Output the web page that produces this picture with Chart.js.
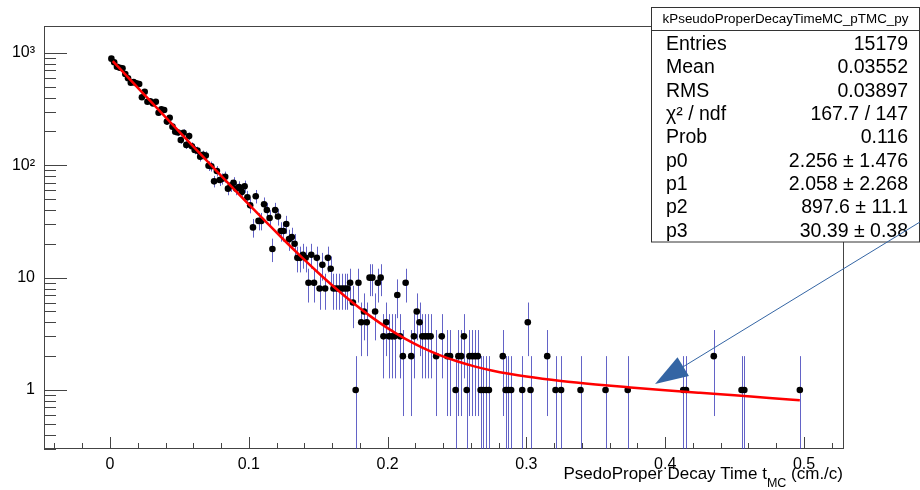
<!DOCTYPE html>
<html><head><meta charset="utf-8">
<script src="https://cdn.jsdelivr.net/npm/chart.js@4.4.0/dist/chart.umd.min.js"></script>
<style>html,body{margin:0;padding:0;background:#fff;}canvas{display:block;}</style>
</head><body>
<canvas id="c" width="920" height="490"></canvas>
<script>
// ---- histogram bins (non-empty) ----
const binCenters = [
0.001,0.003,0.005,0.007,0.009,0.011,0.013,0.015,0.017,0.019,
0.021,0.023,0.025,0.027,0.029,0.031,0.033,0.035,0.037,0.039,
0.041,0.043,0.045,0.047,0.049,0.051,0.053,0.055,0.057,0.059,
0.061,0.063,0.065,0.067,0.069,0.071,0.073,0.075,0.077,0.079,
0.081,0.083,0.085,0.087,0.089,0.091,0.093,0.095,0.097,0.099,
0.101,0.103,0.105,0.107,0.109,0.111,0.113,0.115,0.117,0.119,
0.121,0.123,0.125,0.127,0.129,0.131,0.133,0.135,0.137,0.139,
0.141,0.143,0.145,0.147,0.149,0.151,0.153,0.155,0.157,0.159,
0.161,0.163,0.165,0.167,0.169,0.171,0.173,0.175,0.177,0.179,
0.181,0.183,0.185,0.187,0.189,0.191,0.193,0.195,0.197,0.199,
0.201,0.203,0.205,0.207,0.209,0.211,0.213,
0.217,0.219,0.221,0.223,0.225,0.227,0.229,0.231,0.235,0.239,
0.243,0.245,0.249,0.251,0.253,0.255,0.257,0.259,0.261,0.263,
0.265,0.267,0.269,0.271,0.273,0.283,0.285,0.287,0.289,0.297,
0.301,0.303,0.315,0.321,0.325,0.339,0.357,0.373,0.413,0.415,
0.435,0.455,0.457,0.497];
const binCounts = [
890,826,755,740,730,650,596,544,550,537,
530,403,452,368,372,355,368,294,315,311,
245,265,221,199,196,168,195,152,182,148,
137,135,119,124,122,99,98,72,89,74,
76,79,62,66,70,62,64,58,65,52,
44,28,53,32,32,45,40,34,18,40,
35,26,26,30,22,23,20,15,15,16,
15,9,16,9,15,8,13,8,15,12,
8,8,8,8,8,8,9,6,1,9,
4,5,4,10,10,5,9,10,3,4,
3,3,3,7,3,2,9,
2,3,5,4,3,3,3,3,2,3,
2,2,1,2,2,3,1,2,2,2,
2,1,1,1,1,2,1,1,1,1,
4,1,2,1,1,1,1,1,1,1,
2,1,1,1];
// ---- fit curve ----
const fitX = [0.002,0.025,0.05,0.075,0.1,0.125,0.1375,0.15,0.1625,0.175,0.1875,0.2,0.2125,0.225,0.2375,0.25,0.2625,0.275,0.2875,0.3,0.325,0.35,0.375,0.4,0.425,0.45,0.475,0.497];
const fitY = [846.9,422.0,198.4,93.8,44.8,21.85,15.45,11.06,8.045,5.97,4.541,3.553,2.864,2.382,2.042,1.799,1.622,1.492,1.3925,1.315,1.202,1.119,1.053,0.995,0.943,0.895,0.849,0.811];
// ---- axes ----
const xTickValues = [0,0.1,0.2,0.3,0.4,0.5];
const xTickLabels = ['0','0.1','0.2','0.3','0.4','0.5'];
const yTickValues = [1,10,100,1000];
const yTickLabels = ['1','10','10\u00B2','10\u00B3'];
const xRange = [-0.04755, 0.5281];
const yRange = [0.298, 1739];
const xTitleMain = 'PsedoProper Decay Time t';
const xTitleSub = 'MC';
const xTitleEnd = ' (cm./c)';
// ---- stats box ----
const statsTitle = 'kPseudoProperDecayTimeMC_pTMC_py';
const statsNames = ['Entries','Mean','RMS','\u03C7\u00B2 / ndf','Prob','p0','p1','p2','p3'];
const statsValues = ['15179','0.03552','0.03897','167.7 / 147','0.116','2.256 \u00B1 1.476','2.058 \u00B1 2.268','897.6 \u00B1 11.1','30.39 \u00B1 0.38'];
// ---- arrow annotation (data coords) ----
const arrowTail = {x:0.5836, y:31.3};
const arrowTip = {x:0.3927, y:1.131};

const FONT = "'Liberation Sans', Arial, Helvetica, sans-serif";

const errPlugin = {
  id:'errbars',
  beforeDatasetsDraw(chart){
    const {ctx, chartArea:a, scales:{x,y}} = chart;
    ctx.save();
    ctx.beginPath(); ctx.rect(a.left,a.top,a.right-a.left,a.bottom-a.top); ctx.clip();
    ctx.strokeStyle='rgba(60,60,185,0.8)'; ctx.lineWidth=1;
    binCenters.forEach((cx,i)=>{
      const n=binCounts[i], e=Math.sqrt(n);
      const px=Math.round(x.getPixelForValue(cx))+0.5;
      const top=y.getPixelForValue(n+e);
      const bot=(n-e>0)?y.getPixelForValue(n-e):a.bottom;
      ctx.beginPath(); ctx.moveTo(px,top); ctx.lineTo(px,bot); ctx.stroke();
    });
    ctx.restore();
  }
};

const axesPlugin = {
  id:'rootAxes',
  beforeDatasetsDraw(chart){
    const {ctx, chartArea:a, scales:{x,y}} = chart;
    ctx.save();
    ctx.strokeStyle='#444'; ctx.lineWidth=1;
    ctx.strokeRect(Math.round(a.left)+0.5, Math.round(a.top)+0.5, Math.round(a.right-a.left), Math.round(a.bottom-a.top)-1);
    ctx.beginPath();
    for(let j=-2;j<=26;j++){
      const v=j*0.02; if(v<xRange[0]||v>xRange[1]) continue;
      const px=Math.round(x.getPixelForValue(v))+0.5;
      const len=(j%5===0)?12:6;
      ctx.moveTo(px,a.bottom); ctx.lineTo(px,a.bottom-len);
    }
    for(let e=-1;e<=3;e++){
      for(let m=1;m<=9;m++){
        const v=m*Math.pow(10,e); if(v<yRange[0]||v>yRange[1]) continue;
        const py=Math.round(y.getPixelForValue(v))+0.5;
        const len=(m===1)?23:12;
        ctx.moveTo(a.left,py); ctx.lineTo(a.left+len,py);
      }
    }
    ctx.stroke();
    ctx.restore();
  },
  afterDraw(chart){
    const {ctx, chartArea:a, scales:{x,y}} = chart;
    ctx.save();
    // x-axis title
    ctx.fillStyle='#000'; ctx.textBaseline='alphabetic';
    const fMain='17px '+FONT, fSub='12.5px '+FONT;
    ctx.font=fMain; const wMain=ctx.measureText(xTitleMain).width, wEnd=ctx.measureText(xTitleEnd).width;
    ctx.font=fSub; const wSub=ctx.measureText(xTitleSub).width;
    let tx=a.right-(wMain+wSub+wEnd);
    ctx.font=fMain; ctx.textAlign='left'; ctx.fillText(xTitleMain,tx,479);
    ctx.font=fSub; ctx.fillText(xTitleSub,tx+wMain,487);
    ctx.font=fMain; ctx.fillText(xTitleEnd,tx+wMain+wSub,479);
    // stats box
    const bx=651.5, by=7.5, bw=268, bh=234.5;
    ctx.fillStyle='#fff'; ctx.fillRect(bx,by,bw,bh);
    ctx.strokeStyle='#333'; ctx.lineWidth=1; ctx.strokeRect(bx,by,bw,bh);
    ctx.beginPath(); ctx.moveTo(bx,30.5); ctx.lineTo(bx+bw,30.5); ctx.stroke();
    ctx.fillStyle='#000';
    ctx.font='13.4px '+FONT; ctx.textAlign='center'; ctx.fillText(statsTitle,bx+bw/2,23);
    ctx.font='19.5px '+FONT;
    statsNames.forEach((nm,i)=>{
      const yy=50+23.34*i;
      ctx.textAlign='left'; ctx.fillText(nm,666,yy);
      ctx.textAlign='right'; ctx.fillText(statsValues[i],908,yy);
    });
    // arrow
    const t0={x:x.getPixelForValue(arrowTail.x), y:y.getPixelForValue(arrowTail.y)};
    const t1={x:x.getPixelForValue(arrowTip.x), y:y.getPixelForValue(arrowTip.y)};
    const dx=t0.x-t1.x, dy=t0.y-t1.y, L=Math.hypot(dx,dy), ux=dx/L, uy=dy/L;
    const hl=33, hw=11;
    const bcx=t1.x+ux*hl, bcy=t1.y+uy*hl;
    ctx.strokeStyle='#3465a4'; ctx.fillStyle='#3465a4'; ctx.lineWidth=1;
    ctx.beginPath(); ctx.moveTo(t0.x,t0.y); ctx.lineTo(bcx,bcy); ctx.stroke();
    ctx.beginPath(); ctx.moveTo(t1.x,t1.y);
    ctx.lineTo(bcx-uy*hw, bcy+ux*hw); ctx.lineTo(bcx+uy*hw, bcy-ux*hw); ctx.closePath(); ctx.fill();
    ctx.restore();
  }
};

new Chart(document.getElementById('c'), {
  type:'scatter',
  data:{datasets:[
    {label:'fit', type:'line', data:fitX.map((v,i)=>({x:v,y:fitY[i]})), borderColor:'#ff0000', borderWidth:2.5, pointRadius:0, fill:false, cubicInterpolationMode:'monotone'},
    {label:'data', data:binCenters.map((v,i)=>({x:v,y:binCounts[i]})), backgroundColor:'#000', borderColor:'#000', pointRadius:3.3, borderWidth:0}
  ]},
  options:{
    responsive:false, animation:false, devicePixelRatio:1,
    layout:{padding:{left:0,top:26,right:77,bottom:0}},
    plugins:{legend:{display:false}, tooltip:{enabled:false}},
    scales:{
      x:{type:'linear', min:xRange[0], max:xRange[1],
        grid:{display:false, drawTicks:false}, border:{display:false},
        afterBuildTicks:s=>{s.ticks=xTickValues.map(v=>({value:v}));},
        afterFit:s=>{s.height=41;},
        ticks:{callback:(v,i)=>xTickLabels[i], font:{family:FONT,size:16}, color:'#000', padding:6, maxRotation:0, autoSkip:false}},
      y:{type:'logarithmic', min:yRange[0], max:yRange[1],
        grid:{display:false, drawTicks:false}, border:{display:false},
        afterBuildTicks:s=>{s.ticks=yTickValues.map(v=>({value:v}));},
        afterFit:s=>{s.width=44;},
        ticks:{callback:(v,i)=>yTickLabels[i], font:{family:FONT,size:16}, color:'#000', padding:9, autoSkip:false}}
    }
  },
  plugins:[axesPlugin, errPlugin]
});
</script>
</body></html>
